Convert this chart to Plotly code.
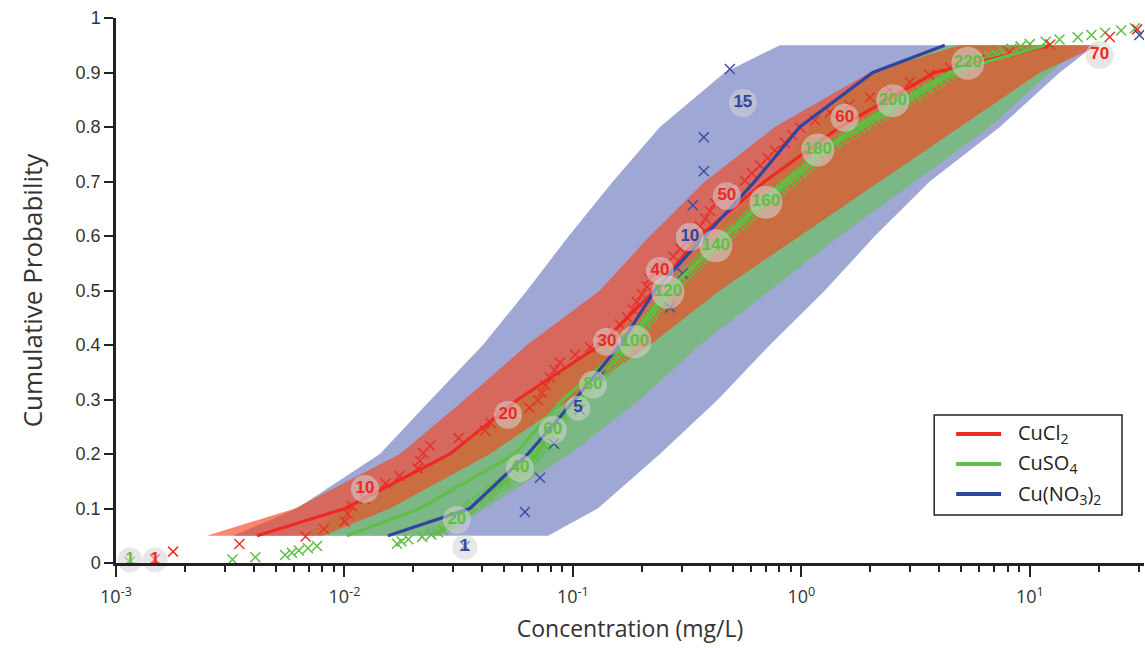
import numpy as np
import plotly.graph_objects as go

# ---------------- data (log10 concentration in mg/L) ----------------
P_LEVELS = [0.05, 0.1, 0.2, 0.3, 0.4, 0.5, 0.6, 0.7, 0.8, 0.9, 0.95]

# confidence bands: left (low conc) and right (high conc) edge at each probability level
blue_band_lo = [-2.488, -2.208, -1.845, -1.621, -1.394, -1.201, -1.018, -0.825, -0.619, -0.335, -0.094]
blue_band_hi = [-1.109, -0.891, -0.619, -0.365, -0.138, 0.103, 0.322, 0.562, 0.869, 1.131, 1.284]
green_band_lo = [-2.182, -1.998, -1.538, -1.241, -0.882, -0.567, -0.418, -0.138, 0.037, 0.300, 0.650]
green_band_hi = [-1.582, -1.385, -1.013, -0.707, -0.444, -0.138, 0.168, 0.497, 0.825, 1.088, 1.241]
red_band_lo = [-2.602, -2.217, -1.757, -1.473, -1.201, -0.882, -0.663, -0.422, -0.116, 0.300, 0.694]
red_band_hi = [-2.094, -1.801, -1.363, -1.013, -0.663, -0.357, -0.007, 0.344, 0.694, 1.044, 1.306]

# fitted median curves
red_line = [-2.383, -1.998, -1.538, -1.241, -0.882, -0.641, -0.444, -0.160, 0.168, 0.584, 1.088]
green_line = [-1.989, -1.670, -1.254, -1.044, -0.772, -0.584, -0.335, -0.072, 0.234, 0.650, 1.066]
blue_line = [-1.810, -1.451, -1.197, -0.991, -0.794, -0.641, -0.422, -0.204, -0.007, 0.313, 0.628]

# observed concentrations (sorted, log10 mg/L)
red_obs = [
    -2.83, -2.75, -2.46, -2.17, -2.09, -2.00, -1.985, -1.967, -1.91, -1.88,
    -1.82, -1.76, -1.68, -1.67, -1.655, -1.625, -1.50, -1.385, -1.36, -1.32,
    -1.19, -1.153, -1.136, -1.12, -1.10, -1.08, -1.057, -0.99, -0.925, -0.88,
    -0.825, -0.794, -0.764, -0.737, -0.72, -0.698, -0.676, -0.663, -0.64, -0.61,
    -0.56, -0.53, -0.50, -0.475, -0.444, -0.42, -0.40, -0.378, -0.357, -0.313,
    -0.247, -0.217, -0.18, -0.147, -0.116, -0.072, -0.04, -0.005, 0.06, 0.125,
    0.21, 0.30, 0.387, 0.475, 0.56, 0.65, 0.78, 0.91, 1.09, 1.35,
    1.47, 1.57,
]
green_obs = [
    -2.94, -2.49, -2.39, -2.26, -2.23, -2.20, -2.16, -2.12, -1.77, -1.75,
    -1.72, -1.66, -1.62, -1.59, -1.57, -1.555, -1.54, -1.53, -1.52, -1.51,
    -1.50, -1.49, -1.47, -1.46, -1.45, -1.44, -1.42, -1.41, -1.40, -1.38,
    -1.37, -1.36, -1.35, -1.33, -1.32, -1.30, -1.29, -1.27, -1.25, -1.23,
    -1.22, -1.21, -1.20, -1.20, -1.19, -1.18, -1.17, -1.17, -1.16, -1.15,
    -1.14, -1.13, -1.13, -1.12, -1.11, -1.11, -1.10, -1.10, -1.09, -1.09,
    -1.08, -1.07, -1.06, -1.05, -1.04, -1.03, -1.02, -1.01, -1.00, -0.99,
    -0.98, -0.97, -0.96, -0.96, -0.95, -0.94, -0.93, -0.93, -0.92, -0.91,
    -0.90, -0.89, -0.88, -0.87, -0.86, -0.85, -0.84, -0.83, -0.82, -0.81,
    -0.80, -0.79, -0.78, -0.77, -0.77, -0.76, -0.75, -0.74, -0.74, -0.73,
    -0.72, -0.71, -0.71, -0.70, -0.69, -0.68, -0.68, -0.67, -0.66, -0.65,
    -0.65, -0.64, -0.63, -0.62, -0.62, -0.61, -0.60, -0.60, -0.59, -0.58,
    -0.57, -0.56, -0.55, -0.54, -0.53, -0.52, -0.51, -0.50, -0.49, -0.48,
    -0.47, -0.46, -0.45, -0.44, -0.43, -0.42, -0.41, -0.40, -0.38, -0.37,
    -0.36, -0.35, -0.34, -0.33, -0.32, -0.31, -0.30, -0.29, -0.27, -0.26,
    -0.25, -0.24, -0.23, -0.22, -0.21, -0.20, -0.19, -0.18, -0.17, -0.155,
    -0.14, -0.13, -0.12, -0.10, -0.09, -0.08, -0.07, -0.05, -0.04, -0.03,
    -0.02, 0.00, 0.01, 0.02, 0.03, 0.04, 0.05, 0.06, 0.065, 0.07,
    0.09, 0.10, 0.12, 0.13, 0.15, 0.16, 0.18, 0.19, 0.21, 0.23,
    0.24, 0.26, 0.28, 0.29, 0.31, 0.33, 0.35, 0.36, 0.38, 0.40,
    0.41, 0.43, 0.45, 0.46, 0.48, 0.50, 0.51, 0.53, 0.55, 0.56,
    0.58, 0.60, 0.61, 0.63, 0.65, 0.66, 0.68, 0.70, 0.71, 0.73,
    0.75, 0.77, 0.79, 0.82, 0.85, 0.88, 0.92, 0.96, 1.00, 1.07,
    1.13, 1.21, 1.27, 1.33, 1.40, 1.46, 1.55, 1.62, 1.70, 1.80,
]
blue_obs = [
    -1.473, -1.21, -1.144, -1.083, -0.97, -0.88, -0.77, -0.575, -0.52, -0.444,
    -0.475, -0.427, -0.427, -0.256, -0.313, 1.48,
]

# point-index labels: (text, log10 x, probability)
red_lab_text = ["1", "10", "20", "30", "40", "50", "60", "70"]
red_lab_x = [-2.829, -1.910, -1.284, -0.851, -0.619, -0.326, 0.190, 1.306]
red_lab_y = [0.0055, 0.136, 0.272, 0.406, 0.536, 0.673, 0.817, 0.932]
green_lab_text = ["1", "20", "40", "60", "80", "100", "120", "140", "160", "180", "200", "220"]
green_lab_x = [-2.939, -1.508, -1.232, -1.088, -0.912, -0.729, -0.584, -0.374, -0.155, 0.072, 0.400, 0.729]
green_lab_y = [0.0055, 0.079, 0.174, 0.244, 0.327, 0.406, 0.497, 0.582, 0.662, 0.758, 0.848, 0.917]
blue_lab_text = ["1", "5", "10", "15"]
blue_lab_x = [-1.473, -0.978, -0.488, -0.256]
blue_lab_y = [0.029, 0.284, 0.598, 0.844]

series_names = ["CuCl<sub>2</sub>", "CuSO<sub>4</sub>", "Cu(NO<sub>3</sub>)<sub>2</sub>"]

x_tick_vals = [1e-3, 1e-2, 1e-1, 1e0, 1e1]
x_tick_text = ["10<sup>-3</sup>", "10<sup>-2</sup>", "10<sup>-1</sup>", "10<sup>0</sup>", "10<sup>1</sup>"]
y_tick_vals = [0, 0.1, 0.2, 0.3, 0.4, 0.5, 0.6, 0.7, 0.8, 0.9, 1.0]
y_tick_text = ["0", "0.1", "0.2", "0.3", "0.4", "0.5", "0.6", "0.7", "0.8", "0.9", "1"]

# ---------------- styling ----------------
RED = "#ec2a23"
GREEN = "#62be46"
BLUE = "#2f46a0"
SERIES_COLORS = [RED, GREEN, BLUE]


def band_polygon(lo, hi):
    xs = [10 ** v for v in lo] + [10 ** v for v in hi[::-1]]
    ys = list(P_LEVELS) + list(P_LEVELS[::-1])
    return xs, ys


def ecdf_y(vals):
    n = len(vals)
    return [(i + 0.5) / n for i in range(n)]


fig = go.Figure()

for lo, hi, col in [
    (blue_band_lo, blue_band_hi, "rgba(64,80,170,0.5)"),
    (green_band_lo, green_band_hi, "rgba(100,195,80,0.6)"),
    (red_band_lo, red_band_hi, "rgba(245,70,30,0.65)"),
]:
    xs, ys = band_polygon(lo, hi)
    fig.add_trace(go.Scatter(x=xs, y=ys, fill="toself", fillcolor=col, mode="none",
                             showlegend=False, hoverinfo="skip"))

for obs, col in [(green_obs, "#5fbd42"), (red_obs, "#e8302a"), (blue_obs, "#3c4ea6")]:
    fig.add_trace(go.Scatter(
        x=[10 ** v for v in obs], y=ecdf_y(obs), mode="markers",
        marker=dict(symbol="x-thin-open", size=10, color=col, line=dict(color=col, width=1.5)),
        showlegend=False, hoverinfo="skip"))

for line, col in [(red_line, RED), (green_line, GREEN), (blue_line, BLUE)]:
    fig.add_trace(go.Scatter(x=[10 ** v for v in line], y=P_LEVELS, mode="lines",
                             line=dict(color=col, width=3.2), showlegend=False, hoverinfo="skip"))

for texts, lx, ly, col in [
    (green_lab_text, green_lab_x, green_lab_y, GREEN),
    (red_lab_text, red_lab_x, red_lab_y, RED),
    (blue_lab_text, blue_lab_x, blue_lab_y, BLUE),
]:
    sizes = [{1: 25, 2: 28, 3: 33}[len(t)] for t in texts]
    fig.add_trace(go.Scatter(
        x=[10 ** v for v in lx], y=ly, mode="markers+text",
        text=texts, textposition="middle center",
        textfont=dict(family="Liberation Sans, Arial", size=17, color=col, weight="bold"),
        marker=dict(symbol="circle", size=sizes, color="rgba(212,212,212,0.8)", line=dict(width=0)),
        cliponaxis=False, showlegend=False, hoverinfo="skip"))

minor_vals = [m * 10.0 ** e for e in range(-3, 2) for m in range(2, 10)]

# ---- legend drawn as a framed box (paper coordinates) ----
LEG_X0, LEG_X1, LEG_Y0, LEG_Y1 = 0.7959, 0.9786, 0.0881, 0.2716
row_y = [0.2367, 0.1817, 0.1266]
shapes = [dict(type="rect", xref="paper", yref="paper", x0=LEG_X0, x1=LEG_X1, y0=LEG_Y0, y1=LEG_Y1,
               line=dict(color="#222", width=1.5), fillcolor="white", layer="above")]
annotations = []
for name, col, ry in zip(series_names, SERIES_COLORS, row_y):
    shapes.append(dict(type="line", xref="paper", yref="paper", x0=0.8173, x1=0.861, y0=ry, y1=ry,
                       line=dict(color=col, width=4), layer="above"))
    annotations.append(dict(xref="paper", yref="paper", x=0.8756, y=ry, xanchor="left", yanchor="middle",
                            text=name, showarrow=False,
                            font=dict(family="Open Sans", size=20, color="#222")))

fig.update_layout(
    width=1145, height=648,
    margin=dict(l=116, r=1, t=18, b=85),
    plot_bgcolor="white", paper_bgcolor="white",
    showlegend=False,
    shapes=shapes, annotations=annotations,
    xaxis=dict(type="log", range=[-3, 1.5], showline=True, linecolor="#222", linewidth=2.5,
               ticks="outside", ticklen=11, tickwidth=2, tickcolor="#222",
               tickvals=x_tick_vals, ticktext=x_tick_text, ticklabelstandoff=5,
               tickfont=dict(family="Open Sans", size=18, color="#333"),
               minor=dict(ticks="outside", ticklen=6, tickwidth=1.5, tickcolor="#222",
                          tickvals=minor_vals, showgrid=False),
               showgrid=False, zeroline=False,
               title=dict(text="Concentration (mg/L)", standoff=14,
                          font=dict(family="Open Sans", size=23, color="#333"))),
    yaxis=dict(range=[0, 1], showline=True, linecolor="#222", linewidth=2.5,
               ticks="outside", ticklen=9, tickwidth=2, tickcolor="#222",
               tickvals=y_tick_vals, ticktext=y_tick_text,
               tickfont=dict(family="Liberation Sans, Arial", size=18, color="#333"),
               showgrid=False, zeroline=False,
               title=dict(text="Cumulative Probability", standoff=26,
                          font=dict(family="Open Sans", size=26, color="#333"))),
)

fig.write_html("out.html")
